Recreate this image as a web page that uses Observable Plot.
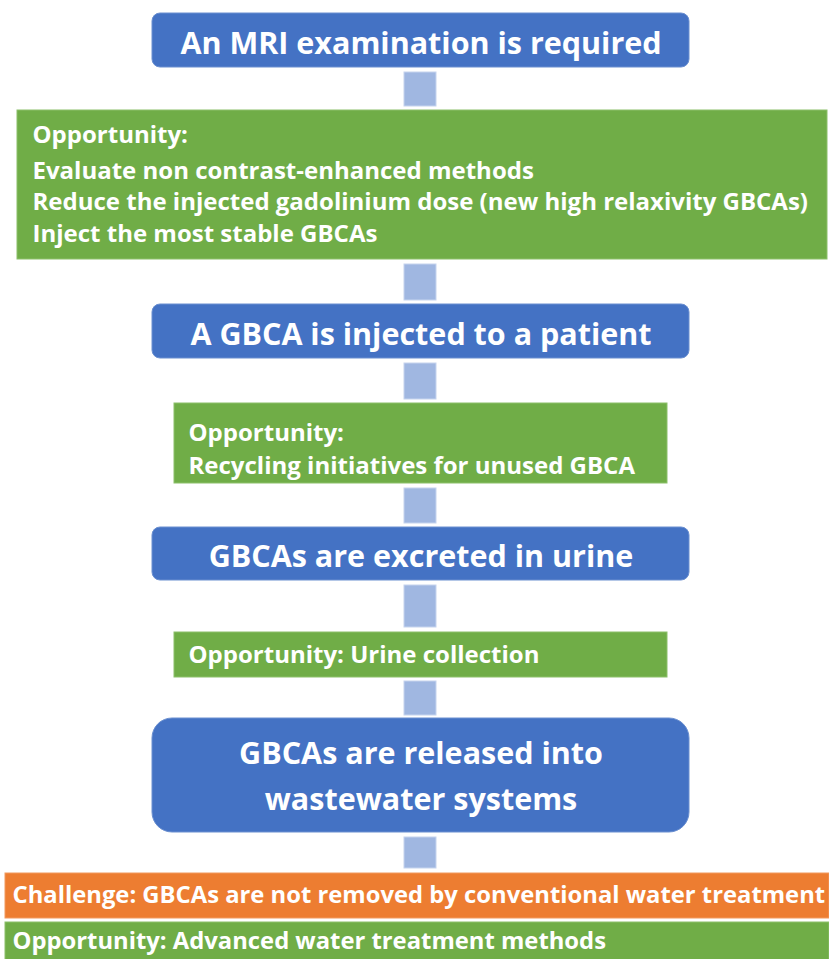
<!DOCTYPE html>
<html><head><meta charset="utf-8">
<script src="https://cdn.jsdelivr.net/npm/d3@7"></script>
<script src="https://cdn.jsdelivr.net/npm/@observablehq/plot@0.6"></script>
<style>html,body{margin:0;padding:0;background:#fff}</style>
</head><body><div id="chart"></div>
<script>
// ---- content ----
const steps = [
  "An MRI examination is required",
  "A GBCA is injected to a patient",
  "GBCAs are excreted in urine",
  "GBCAs are released into\nwastewater systems"
];
const opportunityLabel = "Opportunity:";
const challengeLabel = "Challenge:";
const opportunity1 = [
  "Evaluate non contrast-enhanced methods",
  "Reduce the injected gadolinium dose (new high relaxivity GBCAs)",
  "Inject the most stable GBCAs"
];
const opportunity2 = ["Recycling initiatives for unused GBCA"];
const opportunity3 = ["Urine collection"];
const challenge = "GBCAs are not removed by conventional water treatment";
const opportunity4 = ["Advanced water treatment methods"];

// ---- layout (canvas units) ----
const W = 829, H = 959;
const colors = {step: "#4472C4", opp: "#70AD47", chal: "#ED7D31", conn: "#A0B7E1"};
const boxes = [
  {kind: "step", x1: 152, x2: 689, y1: 13, y2: 67, lines: [steps[0]], tx: 420.5, ty: [32]},
  {kind: "opp", x1: 17, x2: 827, y1: 110, y2: 259, lines: [opportunityLabel, ...opportunity1], tx: 32, ty: [125, 161, 192, 224]},
  {kind: "step", x1: 152, x2: 689, y1: 304, y2: 358, lines: [steps[1]], tx: 420.5, ty: [323]},
  {kind: "opp", x1: 174, x2: 667, y1: 403, y2: 483, lines: [opportunityLabel, ...opportunity2], tx: 188, ty: [423, 456]},
  {kind: "step", x1: 152, x2: 689, y1: 527, y2: 580, lines: [steps[2]], tx: 420.5, ty: [545]},
  {kind: "opp", x1: 174, x2: 667, y1: 632, y2: 677, lines: [opportunityLabel + " " + opportunity3[0]], tx: 188, ty: [645]},
  {kind: "stepBig", x1: 152, x2: 689, y1: 718, y2: 832, lines: steps[3].split("\n"), tx: 420.5, ty: [742, 788]},
  {kind: "chal", x1: 5, x2: 829, y1: 873, y2: 918, lines: [challengeLabel + " " + challenge], tx: 12, ty: [886]},
  {kind: "oppWide", x1: 5, x2: 829, y1: 922, y2: 962, lines: [opportunityLabel + " " + opportunity4[0]], tx: 12, ty: [932]}
];
// connectors between consecutive boxes
const connX = [404, 436];
const connectors = [
  {y1: 72, y2: 106}, {y1: 264, y2: 300}, {y1: 363, y2: 399}, {y1: 488, y2: 523},
  {y1: 585, y2: 627}, {y1: 681, y2: 715}, {y1: 837, y2: 868}
].map(d => ({...d, x1: connX[0], x2: connX[1]}));

const textRows = boxes.flatMap(b => b.lines.map((t, i) => ({
  text: t, x: b.tx, y: b.ty[i], kind: b.kind
})));
const centered = textRows.filter(d => d.kind.startsWith("step"));
const leftOpp = textRows.filter(d => d.kind === "opp");
const leftWide = textRows.filter(d => d.kind === "chal" || d.kind === "oppWide");

const font = "'Open Sans', Lato, sans-serif";
const chart = Plot.plot({
  width: W, height: H, margin: 0,
  x: {domain: [0, W], range: [0, W], axis: null},
  y: {domain: [0, H], range: [0, H], axis: null},
  style: {background: "#fff"},
  marks: [
    Plot.rect(connectors, {x1: "x1", x2: "x2", y1: "y1", y2: "y2", fill: colors.conn, stroke: "#C6D4EE", strokeWidth: 1}),
    Plot.rect(boxes.filter(b => b.kind === "step"), {x1: "x1", x2: "x2", y1: "y1", y2: "y2", fill: colors.step, stroke: "#6A8FD0", strokeWidth: 1, rx: 8, ry: 8}),
    Plot.rect(boxes.filter(b => b.kind === "stepBig"), {x1: "x1", x2: "x2", y1: "y1", y2: "y2", fill: colors.step, stroke: "#6A8FD0", strokeWidth: 1, rx: 20, ry: 20}),
    Plot.rect(boxes.filter(b => b.kind.startsWith("opp")), {x1: "x1", x2: "x2", y1: "y1", y2: "y2", fill: colors.opp, stroke: "#8CC06B", strokeWidth: 1}),
    Plot.rect(boxes.filter(b => b.kind === "chal"), {x1: "x1", x2: "x2", y1: "y1", y2: "y2", fill: colors.chal, stroke: "#F29A5E", strokeWidth: 1}),
    Plot.text(centered, {x: "x", y: "y", text: "text", textAnchor: "middle", lineAnchor: "top", fill: "#fff", fontSize: 30.5, fontWeight: "bold", fontFamily: font}),
    Plot.text(leftOpp, {x: "x", y: "y", text: "text", textAnchor: "start", lineAnchor: "top", fill: "#fff", fontSize: 24, fontWeight: "bold", fontFamily: font}),
    Plot.text(leftWide, {x: "x", y: "y", text: "text", textAnchor: "start", lineAnchor: "top", fill: "#fff", fontSize: 23.8, fontWeight: "bold", fontFamily: font})
  ]
});
document.getElementById("chart").appendChild(chart);
</script>
</body></html>
